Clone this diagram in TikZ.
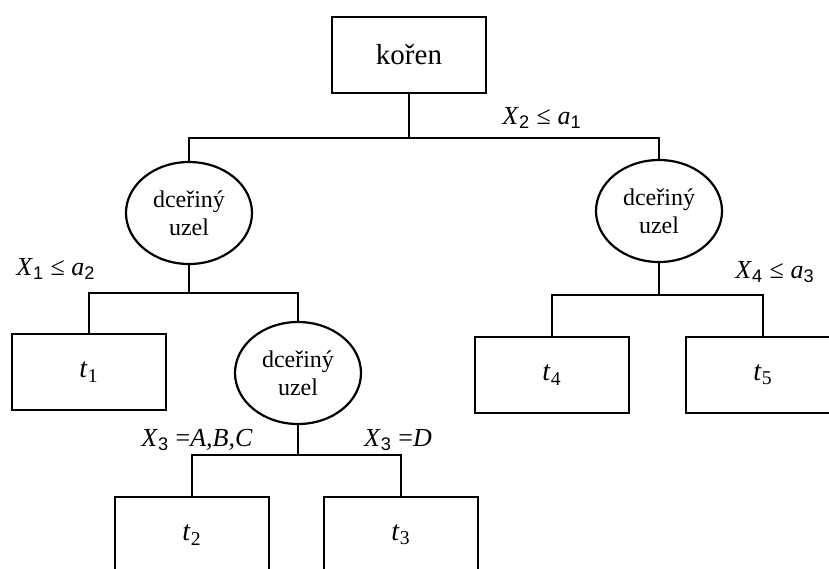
\documentclass[tikz,border=0pt]{standalone}
\usepackage{fontspec}
\setmainfont{Liberation Serif}
\setsansfont{Liberation Sans}
\usetikzlibrary{positioning, shapes.geometric}
\newcommand{\lsub}[1]{\textsubscript{\sffamily #1}}

\begin{document}
\begin{tikzpicture}[x=0.5pt,y=-0.5pt,line width=1.1pt,
  T/.style={draw,minimum width=77pt,minimum height=38pt,inner sep=0pt,
            font=\fontsize{14}{16}\selectfont},
  D/.style={draw,ellipse,minimum width=63pt,minimum height=51pt,
            inner sep=0pt,align=center,font=\fontsize{12}{14}\selectfont},
  L/.style={inner sep=0pt,font=\fontsize{13}{15}\selectfont}]
\useasboundingbox (0,0) rectangle (829,568);
\clip (0,0) rectangle (829,568);

% root and first split
\node[T,font=\fontsize{14.5}{17}\selectfont] (root) at (409,55) {kořen};
\node[D] (e1) at (189,213) {dceřiný\\uzel};
\node[D] (e3) at (659,211) {dceřiný\\uzel};

% left subtree
\node[T] (t1) at (89,372) {\textit{t}\textsubscript{1}};
\node[D] (e2) at (298,373) {dceřiný\\uzel};
\node[T] (t2) at (192,535) {\textit{t}\textsubscript{2}};
\node[T] (t3) at (401,535) {\textit{t}\textsubscript{3}};

% right subtree
\node[T] (t4) at (552,375) {\textit{t}\textsubscript{4}};
\node[T] (t5) at (763,375) {\textit{t}\textsubscript{5}};

% split conditions
\node[L] (c1) at (542,118) {\textit{X}\lsub{2} ≤ \textit{a}\lsub{1}};
\node[L] (c2) at (56,269)  {\textit{X}\lsub{1} ≤ \textit{a}\lsub{2}};
\node[L] (c3) at (197,440) {\textit{X}\lsub{3} =\textit{A,B,C}};
\node[L] (c4) at (398,440) {\textit{X}\lsub{3} =\textit{D}};
\node[L] (c5) at (775,272) {\textit{X}\lsub{4} ≤ \textit{a}\lsub{3}};

% branches
\coordinate (j0) at (409,138);
\coordinate (j1) at (189,293);
\coordinate (j2) at (298,455);
\coordinate (j3) at (659,295);
\draw (root.south) -- (j0);
\draw (e1.north) |- (j0) -| (e3.north);
\draw (e1.south) -- (j1);
\draw (t1.north) |- (j1) -| (e2.north);
\draw (e2.south) -- (j2);
\draw (t2.north) |- (j2) -| (t3.north);
\draw (e3.south) -- (j3);
\draw (t4.north) |- (j3) -| (t5.north);
\end{tikzpicture}
\end{document}
